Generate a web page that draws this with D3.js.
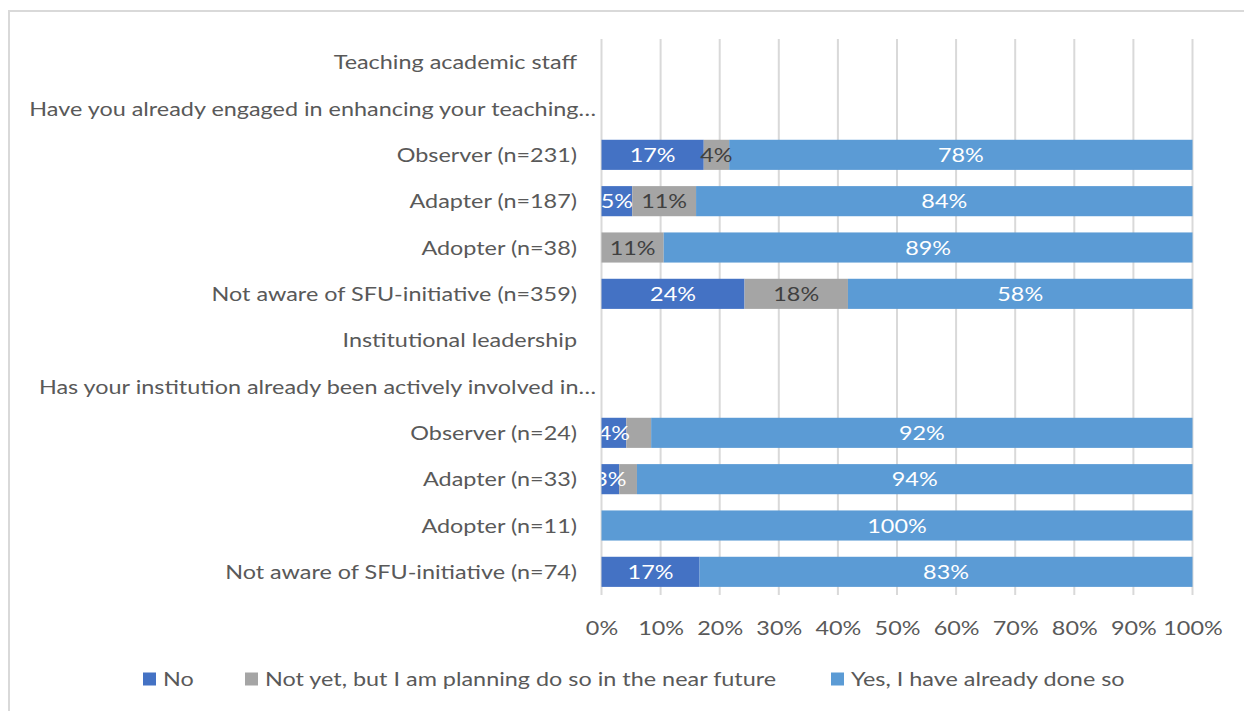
<!DOCTYPE html>
<html>
<head>
<meta charset="utf-8">
<script src="https://cdn.jsdelivr.net/npm/d3@7/dist/d3.min.js"></script>
<style>
  html, body { margin: 0; padding: 0; background: #fff; }
  svg { display: block; }
  text { font-family: Lato, "Open Sans", sans-serif; }
</style>
</head>
<body>
<svg id="chart" width="1244" height="711"></svg>
<script>
// ---- data ----
const categories = [
  "Teaching academic staff",
  "Have you already engaged in enhancing your teaching…",
  "Observer (n=231)",
  "Adapter (n=187)",
  "Adopter (n=38)",
  "Not aware of SFU-initiative (n=359)",
  "Institutional leadership",
  "Has your institution already been actively involved in…",
  "Observer (n=24)",
  "Adapter (n=33)",
  "Adopter (n=11)",
  "Not aware of SFU-initiative (n=74)"
];
const seriesNames = ["No", "Not yet, but I am planning do so in the near future", "Yes, I have already done so"];
const noValues     = [null, null, 17.3, 5.2, 0,     24.2, null, null, 4.2, 3.0, 0, 16.6];
const notYetValues = [null, null, 4.3, 10.8, 10.53, 17.5, null, null, 4.2, 3.0, 0, 0];
const yesValues    = [null, null, 78.4, 84.0, 89.47, 58.3, null, null, 91.6, 94.0, 100, 83.4];
// data labels hidden in the original (series index, category index)
const hiddenLabels = [[1, 8], [1, 9]];
const xTicks = [0, 10, 20, 30, 40, 50, 60, 70, 80, 90, 100];

// ---- styles ----
const colors = ["#4472C4", "#A5A5A5", "#5B9BD5"];
const labelColors = ["#ffffff", "#404040", "#ffffff"];
const textColor = "#595959";
const gridColor = "#D9D9D9";
const SX = 1.17; // horizontal text stretch (reference glyphs are wide)
const FS = 20;

const svg = d3.select("#chart");
const W = 1244, H = 711;

// outer chart border (cut off at right/bottom like the reference)
svg.append("rect")
  .attr("x", 9).attr("y", 11).attr("width", W + 40).attr("height", H + 40)
  .attr("fill", "none").attr("stroke", gridColor).attr("stroke-width", 2);

const plot = { left: 601.5, right: 1192.5, top: 39, bottom: 595 };

const x = d3.scaleLinear().domain([0, 100]).range([plot.left, plot.right]);
const y = d3.scaleBand().domain(categories)
  .range([plot.top, plot.bottom]).paddingInner(0.35).paddingOuter(0.175);

// gridlines
svg.append("g").selectAll("line").data(xTicks).join("line")
  .attr("x1", d => x(d)).attr("x2", d => x(d))
  .attr("y1", plot.top).attr("y2", plot.bottom)
  .attr("stroke", gridColor).attr("stroke-width", 2);

// stacked data
const valueSets = [noValues, notYetValues, yesValues];
const rows = categories.map((c, i) => ({
  cat: c, No: valueSets[0][i] || 0, NotYet: valueSets[1][i] || 0, Yes: valueSets[2][i] || 0
}));
const keys = ["No", "NotYet", "Yes"];
const stacked = d3.stack().keys(keys)(rows);

svg.append("defs").append("clipPath").attr("id", "plotclip")
  .append("rect").attr("x", plot.left).attr("y", plot.top)
  .attr("width", plot.right - plot.left).attr("height", plot.bottom - plot.top);

const barG = svg.append("g");
stacked.forEach((layer, si) => {
  barG.append("g").attr("fill", colors[si])
    .selectAll("rect").data(layer.filter(d => d[1] - d[0] > 0)).join("rect")
    .attr("x", d => x(d[0]))
    .attr("width", d => x(d[1]) - x(d[0]))
    .attr("y", d => y(d.data.cat))
    .attr("height", y.bandwidth());
});

// data labels
const labelG = svg.append("g").attr("clip-path", "url(#plotclip)");
const isHidden = (si, ci) => hiddenLabels.some(h => h[0] === si && h[1] === ci);
stacked.forEach((layer, si) => {
  labelG.append("g")
    .selectAll("text")
    .data(layer.map((d, ci) => ({ d, ci })).filter(o => (o.d[1] - o.d[0]) > 0 && !isHidden(si, o.ci)))
    .join("text")
    .attr("transform", o => `translate(${x((o.d[0] + o.d[1]) / 2)},${y(o.d.data.cat) + y.bandwidth() / 2}) scale(${SX},1)`)
    .attr("dy", "0.36em")
    .attr("text-anchor", "middle")
    .attr("font-size", FS)
    .attr("fill", labelColors[si])
    .text(o => Math.round(o.d[1] - o.d[0]) + "%");
});

// category axis labels
svg.append("g").selectAll("text").data(categories).join("text")
  .attr("transform", d => `translate(${d.endsWith("…") ? 596 : 577},${y(d) + y.bandwidth() / 2}) scale(${SX},1)`)
  .attr("dy", "0.36em")
  .attr("text-anchor", "end")
  .attr("font-size", FS)
  .attr("fill", textColor)
  .text(d => d);

// x axis tick labels
const xAxis = d3.axisBottom(x).tickValues(xTicks).tickFormat(d => d + "%").tickSize(0).tickPadding(0);
const axG = svg.append("g").attr("transform", `translate(0,${plot.bottom})`).call(xAxis);
axG.select(".domain").remove();
axG.selectAll("text").attr("font-family", "Lato, sans-serif").attr("font-size", FS)
  .attr("fill", textColor).attr("y", null).attr("dy", "0.36em")
  .attr("transform", `translate(0,33) scale(${SX},1)`);

// legend
const legendX = [143, 245, 831];
const legendY = 679;
const lg = svg.append("g");
seriesNames.forEach((name, i) => {
  lg.append("rect").attr("x", legendX[i]).attr("y", legendY - 6.5)
    .attr("width", 13).attr("height", 13).attr("fill", colors[i]);
  lg.append("text").attr("transform", `translate(${legendX[i] + 20},${legendY}) scale(${SX},1)`)
    .attr("dy", "0.36em").attr("font-size", FS).attr("fill", textColor).text(name);
});
</script>
</body>
</html>
